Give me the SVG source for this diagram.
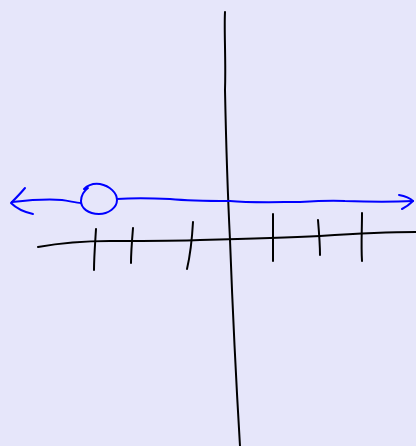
<svg xmlns="http://www.w3.org/2000/svg" width="416" height="446" viewBox="0 0 416 446">
<style>
.k{fill:none;stroke:#000;stroke-width:2;stroke-linecap:round;stroke-linejoin:round}
.b{fill:none;stroke:#0000ff;stroke-width:2;stroke-linecap:round;stroke-linejoin:round}
</style>
<rect width="416" height="446" fill="#e6e6fa"/>
<g id="axes">
<path class="k" d="M225,12 C224,30 226,60 225,90 C226,140 228,200 230,240 C233,320 236,380 240,446"/>
<path class="k" d="M38,247 C60,243 80,241 110,241 C150,241 180,241 200,240 C240,239 280,238 320,236 C350,234 380,232 416,232"/>
</g>
<g id="ticks">
<path class="k" d="M96,229 C95,245 94,258 94,270"/>
<path class="k" d="M133,228 C132,240 131,252 131,263"/>
<path class="k" d="M193,222 C192,240 190,256 187,269"/>
<path class="k" d="M273,214 C273,230 273,246 273,261"/>
<path class="k" d="M318,220 C319,232 320,244 320,255"/>
<path class="k" d="M362,213 C362,230 361,246 362,261"/>
</g>
<g id="blue-line">
<path class="b" d="M25,188 C20,194 15,199 11,203 C16,208 24,212 33,214"/>
<path class="b" d="M12,202 C30,200 50,199 62,200 C70,201 76,203 81,203"/>
<path class="b" d="M84,189 C88,185 93,183 100,184 C110,186 117,193 117,200 C117,208 108,214 99,214 C88,214 81,208 81,201 C81,195 84,191 88,188"/>
<path class="b" d="M117,199 C130,198 150,198 170,199 C190,201 210,201 230,201 C250,203 280,202 300,202 C315,201 330,200 345,201 C370,202 395,202 413,201"/>
<path class="b" d="M399,195 C405,196 410,198 413,201 C410,204 406,207 402,209"/>
</g>
</svg>
